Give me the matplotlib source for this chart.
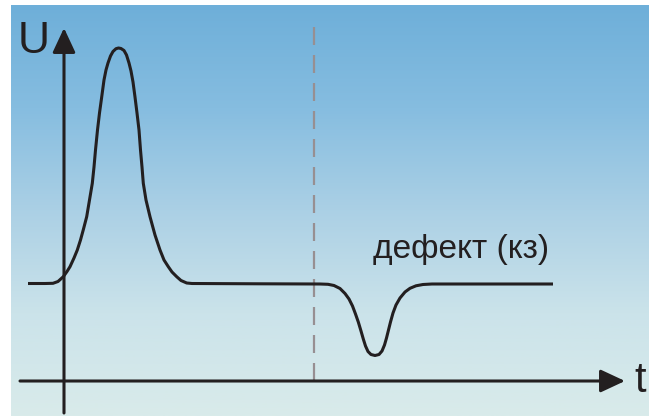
import numpy as np
import matplotlib
matplotlib.use('Agg')
import matplotlib.pyplot as plt
from matplotlib.colors import LinearSegmentedColormap

# Curve: t (time) and U (voltage), axis origin at (0, 0)
curve_t = [-3.6, -1.9, -1.1, -0.6, -0.07, 0.3, 0.6, 1.0, 1.33, 1.65, 1.95,
           2.27, 2.55, 2.83, 3.0, 3.15, 3.35, 3.55, 3.77, 4.0, 4.2, 4.4, 4.65,
           4.9, 5.2, 5.45, 5.7, 6.0, 6.25, 6.5, 6.7, 6.9, 7.1, 7.3, 7.5, 7.65,
           7.8, 7.93, 8.2, 8.6, 9.1, 9.6, 10.0, 10.43, 10.8, 11.27, 11.7, 12.27,
           12.8, 19.6, 25.6, 26.4, 27.0, 27.6, 28.1, 28.5, 28.85, 29.15, 29.43,
           29.7, 29.93, 30.15, 30.4, 30.7, 31.1, 31.5, 31.8, 32.05, 32.25, 32.45,
           32.65, 32.9, 33.2, 33.6, 34.1, 34.6, 35.2, 35.9, 36.8, 48.9]
curve_u = [9.75, 9.75, 9.77, 9.95, 10.43, 10.95, 11.43, 12.3, 13.1, 14.1, 15.2,
           16.43, 18.1, 19.77, 21.4, 23.1, 25.1, 26.8, 28.4, 30.1, 31.1, 31.8,
           32.5, 32.95, 33.23, 33.3, 33.25, 33.05, 32.6, 31.8, 31.0, 29.9, 28.4,
           26.8, 25.1, 23.1, 21.4, 19.77, 18.1, 16.43, 14.6, 13.1, 12.1, 11.43,
           10.9, 10.43, 10.05, 9.8, 9.75, 9.72, 9.7, 9.67, 9.55, 9.25, 8.75, 8.2,
           7.5, 6.7, 5.9, 5.0, 4.2, 3.5, 2.95, 2.65, 2.55, 2.65, 3.0, 3.6, 4.3,
           5.1, 5.9, 6.8, 7.6, 8.3, 8.9, 9.27, 9.52, 9.65, 9.7, 9.7]

fault_t = 25.0
fault_label = 'дефект (кз)'

fig = plt.figure(figsize=(6.49, 4.17), dpi=100)
ax = fig.add_axes([0, 0, 1, 1])
ax.set_xlim(-6.4, 58.5)
ax.set_ylim(-3.6, 38.1)
ax.axis('off')

# background gradient (blue top -> pale bottom)
grad_cmap = LinearSegmentedColormap.from_list('bg', [
    (0.0, '#6eafd9'), (0.25, '#86bde0'), (0.5, '#abd0e5'),
    (0.75, '#cbe3ea'), (1.0, '#d9ebea')])
grad = np.linspace(0, 1, 256).reshape(-1, 1)
ax.imshow(grad, cmap=grad_cmap, aspect='auto', extent=(-5.3, 58.5, -3.5, 37.6),
          origin='upper', zorder=0)

ink = '#231f20'

# axes with arrows
arrow_kw = dict(arrowstyle='-|>,head_length=0.75,head_width=0.35',
                mutation_scale=20, lw=2.2, color=ink, shrinkA=0, shrinkB=0)
ax.annotate('', xy=(0, 35.3), xytext=(0, -3.2), arrowprops=arrow_kw, zorder=3)
ax.annotate('', xy=(56.1, 0), xytext=(-4.4, 0), arrowprops=arrow_kw, zorder=3)

# dashed marker of the fault (drawn top -> bottom so the pattern starts at the top)
ax.plot([fault_t, fault_t], [35.4, 0], color='#978f92', lw=1.6,
        dashes=(8.1, 4.5), zorder=2)

# signal
ax.plot(curve_t, curve_u, color=ink, lw=2.2, solid_capstyle='butt',
        solid_joinstyle='round', zorder=4)

ax.text(-4.6, 32.8, 'U', fontsize=32, color=ink, va='baseline', ha='left',
        family=['Liberation Sans Narrow', 'Liberation Sans'])
ax.text(57.0, -1.07, 't', fontsize=30, color=ink, va='baseline', ha='left',
        family=['Liberation Sans'])
ax.text(30.9, 12.27, fault_label, fontsize=24, color=ink, va='baseline',
        ha='left', family=['Liberation Sans'])

fig.savefig('out.png', dpi=100, facecolor='white')
